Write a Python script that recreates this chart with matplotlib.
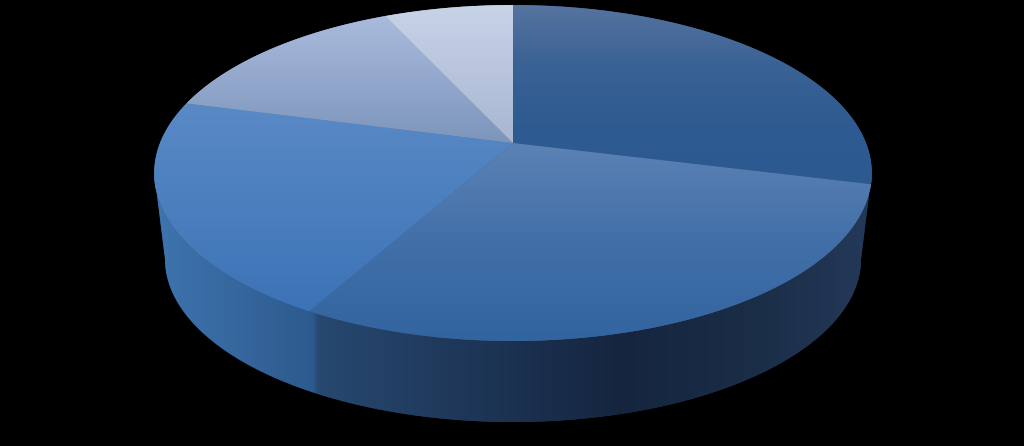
"""3D-look pie chart on a black background."""

import numpy as np
import matplotlib

matplotlib.use("Agg")
import matplotlib.pyplot as plt
from matplotlib.colors import LinearSegmentedColormap, to_rgb
from matplotlib.patches import PathPatch
from matplotlib.path import Path

# slice shares in percent, clockwise from 12 o'clock
values = [28.9, 29.2, 21.0, 14.0, 6.9]
# top face colours per slice, from top of slice to bottom of slice
top_colors = [
    ("#56749f", "#3a6295", "#2e5b90", "#2c5a90"),
    ("#5c82b5", "#426fa8", "#32649f"),
    ("#5a8ac6", "#3c73b6"),
    ("#a9bbdc", "#7d95bc"),
    ("#c8d3e7", "#a8b6d2"),
]
# side wall colours, left to right along the visible rim
side_stops = [
    (154, "#3f74ae"),
    (312, "#2d5a8e"),
    (318, "#274870"),
    (620, "#15253f"),
    (760, "#1b2e47"),
    (872, "#24395a"),
]

CX, CY = 513, 143
R, H, P = 353, 162.6, 0.1786
DEPTH, SHRINK = 87, 0.97


def project(theta, scale=1.0, drop=0.0):
    u = np.sin(theta)
    v = np.cos(theta)
    w = 1 + P * v
    return CX + scale * R * u / w, CY + drop - scale * H * v / w


def paint(ax, verts, colors):
    verts = np.asarray(verts)
    rgb = np.mean([to_rgb(c) for c in colors], axis=0)
    # underlay closes the seams between slices and softens the clipped edge
    patch = PathPatch(Path(verts), facecolor=rgb, edgecolor="none", zorder=0.5)
    ax.add_patch(patch)
    x0, y0 = verts.min(axis=0)
    x1, y1 = verts.max(axis=0)
    cmap = LinearSegmentedColormap.from_list("g", colors)
    grad = np.linspace(0, 1, 256).reshape(-1, 1)
    im = ax.imshow(grad, cmap=cmap, extent=(x0, x1, y1, y0), aspect="auto", zorder=1)
    im.set_clip_path(patch)


fig = plt.figure(figsize=(10.24, 4.46), dpi=100, facecolor="black")
ax = fig.add_axes([0, 0, 1, 1], facecolor="black")

# side wall runs between the two silhouette tangents of the rim
tangent = np.arccos(-P)
t = np.linspace(tangent, 2 * np.pi - tangent, 400)
xs, ys = project(t)
xb, yb = project(t, SHRINK, DEPTH)
wall = np.column_stack([np.r_[xs, xb[::-1], xs[0]], np.r_[ys, yb[::-1], ys[0]]])
lo, hi = side_stops[0][0], side_stops[-1][0]
stops = [((x - lo) / (hi - lo), c) for x, c in side_stops]
wall_patch = PathPatch(Path(wall), facecolor="#1f3a5c", edgecolor="none", zorder=0.4)
ax.add_patch(wall_patch)
cmap = LinearSegmentedColormap.from_list("side", stops)
im = ax.imshow(
    np.linspace(0, 1, 1024).reshape(1, -1),
    cmap=cmap,
    extent=(lo, hi, 446, 0),
    aspect="auto",
    zorder=0.45,
)
im.set_clip_path(wall_patch)

# top face
edges = np.cumsum([0] + values) / sum(values) * 2 * np.pi
for start, end, colors in zip(edges[:-1], edges[1:], top_colors):
    arc = np.linspace(start, end, 200)
    x, y = project(arc)
    verts = np.column_stack([np.r_[CX, x, CX], np.r_[CY, y, CY]])
    paint(ax, verts, colors)

ax.set_xlim(0, 1024)
ax.set_ylim(446, 0)
ax.axis("off")
fig.savefig("out.png", dpi=100, facecolor="black")
plt.close(fig)
